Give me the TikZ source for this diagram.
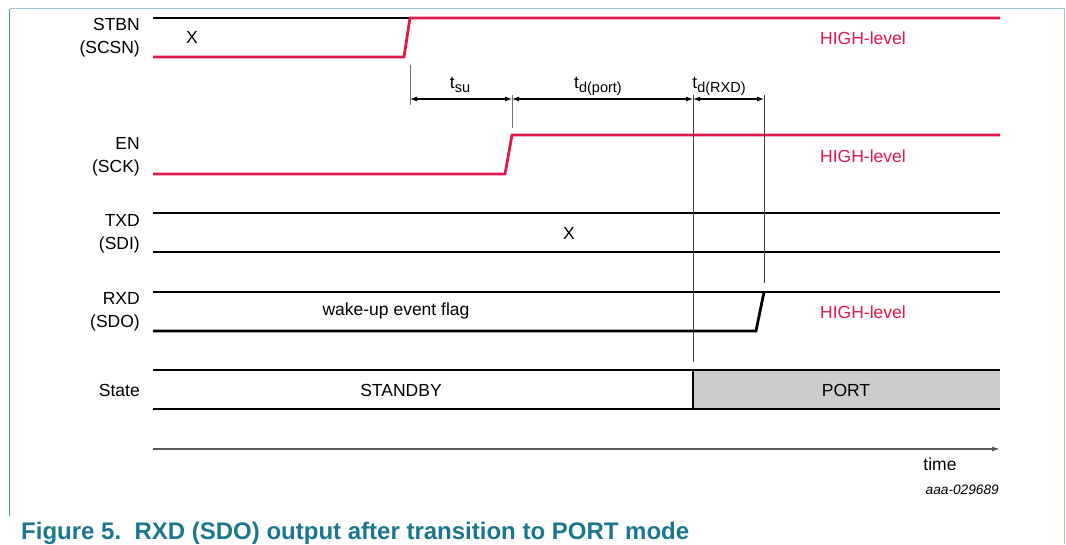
\documentclass[tikz,border=0pt]{standalone}
\usepackage{fontspec}
\setmainfont{Liberation Sans}
\usetikzlibrary{arrows.meta}
\definecolor{sigred}{HTML}{E2184B}
\definecolor{capteal}{HTML}{1B7690}
\definecolor{frameleft}{HTML}{3A8FAA}
\definecolor{framelight}{HTML}{9CC9D4}
\definecolor{portgray}{HTML}{CCCCCC}
\newcommand{\tsub}[2]{#1\raisebox{-0.45ex}{\fontsize{14.5}{15}\selectfont #2}}
\begin{document}
\begin{tikzpicture}[x=1pt,y=-1pt,
  font=\fontsize{17.5}{23}\selectfont,
  sig/.style={line width=2.8pt},
  redsig/.style={sig,draw=sigred},
  tickline/.style={line width=1pt,draw=black!55},
  dimline/.style={line width=1.1pt,{Latex[length=7pt,width=5pt]}-{Latex[length=7pt,width=5pt]}},
  siglabel/.style={anchor=east,align=right,inner sep=0pt},
  hl/.style={text=sigred,inner sep=0pt},
  plain/.style={inner sep=0pt}]
\useasboundingbox (0,0) rectangle (1066,544);
% frame
\draw[framelight,line width=1.2pt] (9.5,8.5) -- (1064.5,8.5) -- (1064.5,544);
\draw[frameleft,line width=1.2pt] (9.5,8.5) -- (9.5,516);
% signal labels
\node[siglabel] (lstbn) at (140,37.5) {STBN\\(SCSN)};
\node[siglabel] (len) at (140,156.5) {EN\\(SCK)};
\node[siglabel] (ltxd) at (140,233.5) {TXD\\(SDI)};
\node[siglabel] (lrxd) at (140,311.5) {RXD\\(SDO)};
\node[siglabel] (lstate) at (140,390) {State};
% STBN
\draw[sig] (153,18) -- (410,18);
\draw[redsig] (153,57) -- (404,57) -- (410,18) -- (1000,18);
\node[plain] (xstbn) at (192,37) {X};
\node[hl] (h1) at (863,38) {HIGH-level};
% EN
\draw[redsig] (153,174) -- (505,174) -- (512,135) -- (1000,135);
\node[hl] (h2) at (863,156) {HIGH-level};
% TXD
\draw[sig] (153,213) -- (1000,213);
\draw[sig] (153,252) -- (1000,252);
\node[plain] (xtxd) at (569,233) {X};
% RXD
\draw[sig] (153,292) -- (1000,292);
\draw[sig] (153,331) -- (756,331) -- (764,292);
\node[plain] (wake) at (396,311) {wake-up event flag};
\node[hl] (h3) at (863,312) {HIGH-level};
% State
\fill[portgray] (693,370) rectangle (1000,409);
\draw[sig] (153,370) -- (1000,370);
\draw[sig] (153,409) -- (1000,409);
\draw[sig] (693,370) -- (693,409);
\node[plain] (standby) at (401,390) {STANDBY};
\node[plain] (port) at (846,390) {PORT};
% timing ticks
\coordinate (a1) at (410,65);  \coordinate (a2) at (410,105);
\coordinate (b1) at (512,95);  \coordinate (b2) at (512,128);
\coordinate (c1) at (693,95);  \coordinate (c2) at (693,362);
\coordinate (d1) at (764,95);  \coordinate (d2) at (764,283);
\draw[tickline] (a1) -- (a2);
\draw[tickline] (b1) -- (b2);
\draw[line width=0.8pt,draw=black!75] (c1) -- (c2);
\draw[line width=0.8pt,draw=black!75] (d1) -- (d2);
\coordinate (pa) at (410,99);
\coordinate (pb) at (512,99);
\coordinate (pc) at (693,99);
\coordinate (pd) at (764,99);
\draw[dimline] (pa) -- (pb);
\draw[dimline] (pb) -- (pc);
\draw[dimline] (pc) -- (pd);
\node[plain,anchor=base] (tsu) at (460,88) {\tsub{t}{su}};
\node[plain,anchor=base] (tdport) at (598,88) {\tsub{t}{d(port)}};
\node[plain,anchor=base] (tdrxd) at (719,88) {\tsub{t}{d(RXD)}};
% time axis
\coordinate (t0) at (153,449);
\coordinate (t1) at (1000,449);
\draw[line width=1.3pt,draw=black!65,-{Latex[length=8pt,width=5pt]}] (t0) -- (t1);
\node[plain] (time) at (940,464) {time};
\node[plain,anchor=east,font=\fontsize{13.7}{16}\itshape] (code) at (999,490) {aaa-029689};
% caption
\node[plain,anchor=base west,text=capteal,font=\fontsize{24}{28}\bfseries] (cap) at (21,539) {Figure 5.\ \ RXD (SDO) output after transition to PORT mode};
\end{tikzpicture}
\end{document}
